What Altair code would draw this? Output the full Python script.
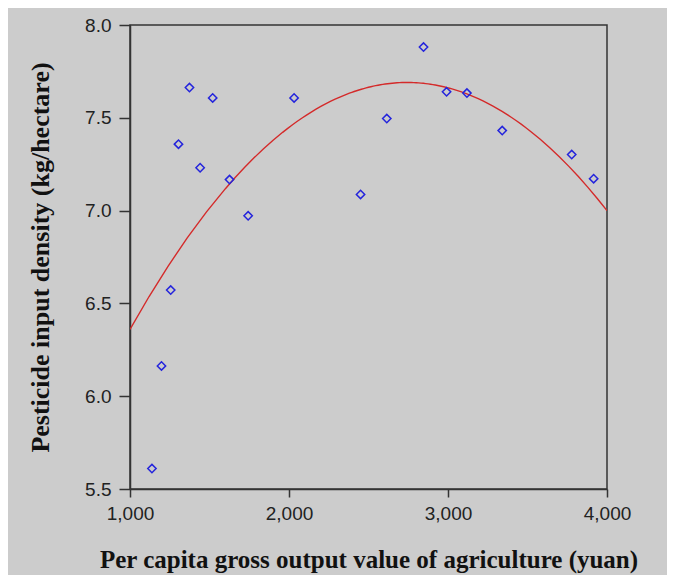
import altair as alt
import pandas as pd

gdp = [1138, 1198, 1256, 1305, 1374, 1441, 1520, 1626, 1743, 2032,
       2450, 2615, 2846, 2991, 3119, 3341, 3778, 3916]
pesticide = [5.61, 6.163, 6.572, 7.358, 7.663, 7.231, 7.607, 7.167, 6.972, 7.607,
             7.087, 7.496, 7.881, 7.640, 7.633, 7.431, 7.302, 7.172]
x_ticks = [1000, 2000, 3000, 4000]
y_ticks = [5.5, 6.0, 6.5, 7.0, 7.5, 8.0]

df = pd.DataFrame({"gdp": gdp, "pest": pesticide})

x = alt.X("gdp:Q", scale=alt.Scale(domain=[1000, 4000], nice=False, zero=False),
          axis=alt.Axis(values=x_ticks, format=",d", title="Per capita gross output value of agriculture (yuan)",
                        grid=False, tickSize=8, labelPadding=7, titlePadding=24, titleFontSize=25,
                        labelFlush=False, labelOverlap=False))
y = alt.Y("pest:Q", scale=alt.Scale(domain=[5.5, 8.0], nice=False, zero=False),
          axis=alt.Axis(values=y_ticks, format=".1f", title="Pesticide input density  (kg/hectare)",
                        grid=False, tickSize=11, labelPadding=8, titlePadding=31,
                        labelFlush=False, labelOverlap=False))

points = alt.Chart(df).mark_point(shape="diamond", filled=False, size=70, opacity=1,
                                  color="#2424dc", strokeWidth=1.5).encode(x=x, y=y)

curve = alt.Chart(df).transform_regression(
    "gdp", "pest", method="poly", order=2, extent=[1000, 4000]
).mark_line(color="#d42a2a", strokeWidth=1.4, clip=True).encode(x=x, y=y)

chart = alt.layer(curve, points).properties(
    width=477, height=464,
    autosize=alt.AutoSizeParams(type="none"),
    padding={"left": 122, "top": 17, "right": 60, "bottom": 86},
    background="#cccccc",
).configure_view(
    stroke="#333333", strokeWidth=1.5, fill="#cccccc"
).configure_axis(
    domainColor="#333333", domainWidth=1.5, tickColor="#333333", tickWidth=1.5,
    labelFont="Liberation Sans", labelFontSize=19, labelColor="#222222",
    titleFont="Liberation Serif", titleFontSize=26, titleFontWeight="bold", titleColor="#111111",
)

chart.save("out.html", embed_options={"renderer": "svg", "actions": False})
